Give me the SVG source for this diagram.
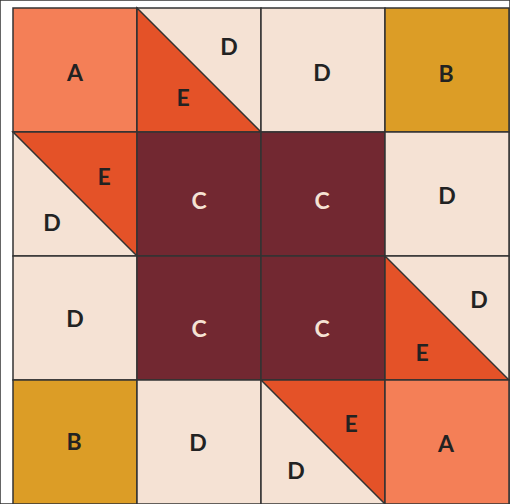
<svg xmlns="http://www.w3.org/2000/svg" width="510" height="504" viewBox="0 0 510 504">
<style>
.a{fill:#F47F57}.b{fill:#DC9D26}.c{fill:#722831}.d{fill:#F5E2D4}.e{fill:#E45228}
rect,polygon{stroke:#333;stroke-width:1.5}
text{font-family:Lato,"Open Sans","Liberation Sans",sans-serif;font-weight:bold;font-size:23px;text-anchor:middle;dominant-baseline:central;fill:#222}
text.l{fill:#F5E2D4}
</style>
<rect width="510" height="504" fill="#fff" stroke="none"/>
<g id="r0c0"><rect class="a" x="13" y="8" width="124" height="124"/><text x="75" y="72">A</text></g>
<g id="r0c1"><rect class="d" x="137" y="8" width="124" height="124"/><polygon class="e" points="137,8 137,132 261,132"/><text x="229" y="46">D</text><text x="183" y="97">E</text></g>
<g id="r0c2"><rect class="d" x="261" y="8" width="124" height="124"/><text x="322" y="72">D</text></g>
<g id="r0c3"><rect class="b" x="385" y="8" width="124" height="124"/><text x="446" y="73">B</text></g>
<g id="r1c0"><rect class="d" x="13" y="132" width="124" height="124"/><polygon class="e" points="13,132 137,132 137,256"/><text x="104" y="176">E</text><text x="52" y="222">D</text></g>
<g id="r1c1"><rect class="c" x="137" y="132" width="124" height="124"/><text class="l" x="199" y="200">C</text></g>
<g id="r1c2"><rect class="c" x="261" y="132" width="124" height="124"/><text class="l" x="322" y="200">C</text></g>
<g id="r1c3"><rect class="d" x="385" y="132" width="124" height="124"/><text x="447" y="195">D</text></g>
<g id="r2c0"><rect class="d" x="13" y="256" width="124" height="124"/><text x="75" y="318">D</text></g>
<g id="r2c1"><rect class="c" x="137" y="256" width="124" height="124"/><text class="l" x="199" y="328">C</text></g>
<g id="r2c2"><rect class="c" x="261" y="256" width="124" height="124"/><text class="l" x="322" y="328">C</text></g>
<g id="r2c3"><rect class="d" x="385" y="256" width="124" height="124"/><polygon class="e" points="385,256 385,380 509,380"/><text x="479" y="299">D</text><text x="422" y="352">E</text></g>
<g id="r3c0"><rect class="b" x="13" y="380" width="124" height="124"/><text x="74" y="441">B</text></g>
<g id="r3c1"><rect class="d" x="137" y="380" width="124" height="124"/><text x="198" y="442">D</text></g>
<g id="r3c2"><rect class="d" x="261" y="380" width="124" height="124"/><polygon class="e" points="261,380 385,380 385,504"/><text x="351" y="423">E</text><text x="296" y="470">D</text></g>
<g id="r3c3"><rect class="a" x="385" y="380" width="124" height="124"/><text x="446" y="443">A</text></g>
</svg>
